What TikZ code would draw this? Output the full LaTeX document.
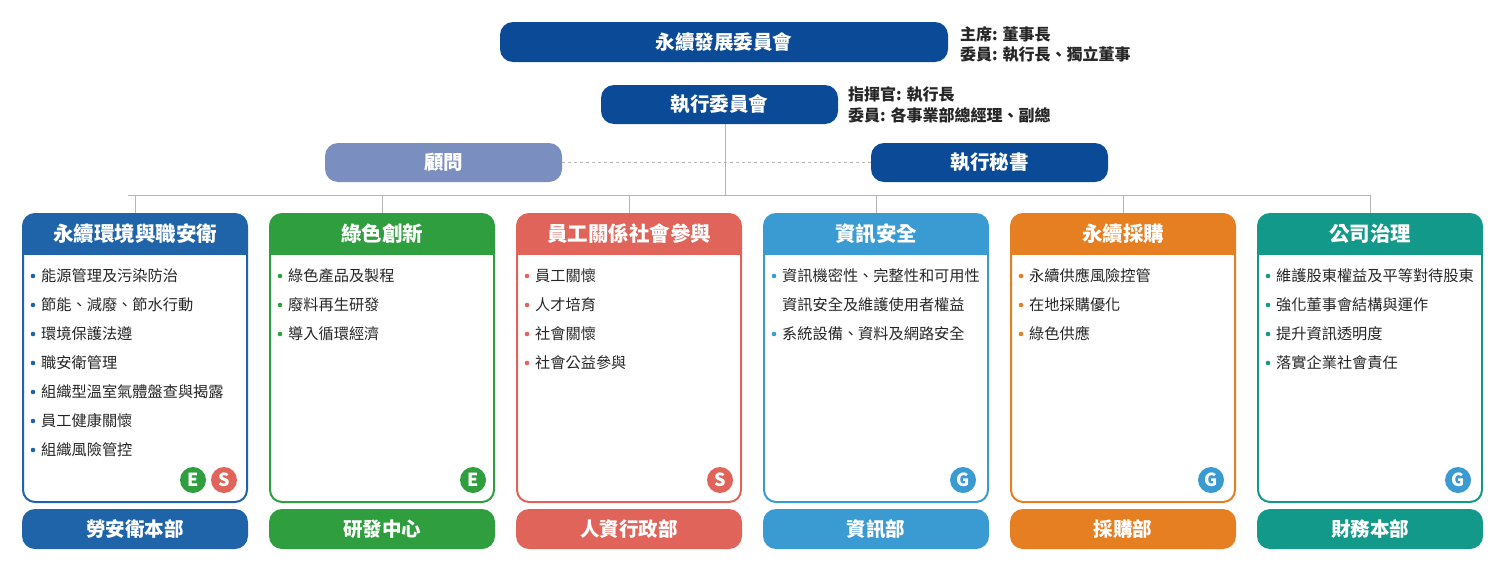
\documentclass[tikz,border=0pt]{standalone}
\usepackage{fontspec}
\setmainfont{Noto Sans CJK TC}
\definecolor{navy}{HTML}{0B4A96}
\definecolor{adv}{HTML}{7B8EC0}
\definecolor{cA}{HTML}{1F64A8}
\definecolor{cB}{HTML}{2E9E3E}
\definecolor{cC}{HTML}{E0645A}
\definecolor{cD}{HTML}{3A9BD2}
\definecolor{cE}{HTML}{E67E22}
\definecolor{cF}{HTML}{12998A}
\definecolor{ln}{HTML}{B5B5B5}
\begin{document}
\begin{tikzpicture}[x=1pt,y=-1pt,
  pill/.style={rounded corners=13pt,text=white,font=\bfseries\fontsize{19.5}{21}\selectfont,inner sep=0pt},
  note/.style={anchor=west,font=\bfseries\fontsize{16}{18}\selectfont,inner sep=0pt,text=black!85},
  item/.style={anchor=west,font=\fontsize{15.2}{17}\selectfont,inner sep=0pt,text=black!85},
  badge/.style={circle,minimum size=26pt,inner sep=0pt,text=white,font=\bfseries\fontsize{18}{18}\selectfont},
  conn/.style={draw=ln,line width=0.9pt}]
\useasboundingbox (0,0) rectangle (1500,565);
\node[pill,fill=navy,minimum width=448pt,minimum height=40pt] (top) at (724,42) {永續發展委員會};
\node[note] (t1) at (960,34) {主席: 董事長};
\node[note] (t2) at (960,54) {委員: 執行長、獨立董事};
\node[pill,fill=navy,minimum width=237pt,minimum height=39pt] (exe) at (719.5,104.5) {執行委員會};
\node[note] (e1) at (848,95) {指揮官: 執行長};
\node[note] (e2) at (848,115) {委員: 各事業部總經理、副總};
\node[pill,fill=adv,minimum width=237pt,minimum height=39pt] (adv) at (443.5,162.5) {顧問};
\node[pill,fill=navy,minimum width=237pt,minimum height=39pt] (sec) at (989.5,162.5) {執行秘書};
\draw[conn,dashed] (adv.east) -- (sec.west);
\coordinate (hub) at (725,195);
\draw[conn] (725,124) -- (hub);
\draw[conn] (128,195) -- (1370,195);
\foreach \cx/\col/\title/\dept/\nm in {135/cA/永續環境與職安衛/勞安衛本部/a,382/cB/綠色創新/研發中心/b,629/cC/員工關係社會參與/人資行政部/c,876/cD/資訊安全/資訊部/d,1123/cE/永續採購/採購部/e,1370/cF/公司治理/財務本部/f}{
  \draw[conn] (\cx,195) -- (\cx,214);
  \draw[\col,line width=2pt,rounded corners=12pt] (\cx-112,214) rectangle (\cx+112,502);
  \begin{scope}
  \clip[rounded corners=12pt] (\cx-112,214) rectangle (\cx+112,502);
  \fill[\col] (\cx-113,213) rectangle (\cx+113,255);
  \end{scope}
  \node[text=white,font=\bfseries\fontsize{20.5}{22}\selectfont] (h\nm) at (\cx,234) {\title};
  \node[pill,fill=\col,minimum width=226pt,minimum height=40pt] (p\nm) at (\cx,529) {\dept};
}
\newcommand\itemlist[3]{%
  \foreach \t [count=\i] in {#3}{
    \fill[#2] (#1+11,276+29*\i-29) circle (2.3pt);
    \node[item] at (#1+19,276+29*\i-29) {\t};
  }}
\itemlist{22}{cA}{能源管理及污染防治,節能、減廢、節水行動,環境保護法遵,職安衛管理,組織型溫室氣體盤查與揭露,員工健康關懷,組織風險管控}
\itemlist{269}{cB}{綠色產品及製程,廢料再生研發,導入循環經濟}
\itemlist{516}{cC}{員工關懷,人才培育,社會關懷,社會公益參與}
\fill[cD] (774,276) circle (2.3pt);
\node[item] at (782,276) {資訊機密性、完整性和可用性};
\node[item] at (782,305) {資訊安全及維護使用者權益};
\fill[cD] (774,334) circle (2.3pt);
\node[item] at (782,334) {系統設備、資料及網路安全};
\itemlist{1010}{cE}{永續供應風險控管,在地採購優化,綠色供應}
\itemlist{1257}{cF}{維護股東權益及平等對待股東,強化董事會結構與運作,提升資訊透明度,落實企業社會責任}
\node[badge,fill=cB] (b1) at (193,480) {E};
\node[badge,fill=cC] (b2) at (224,480) {S};
\node[badge,fill=cB] (b3) at (473,480) {E};
\node[badge,fill=cC] (b4) at (720,480) {S};
\node[badge,fill=cD] (b5) at (963,480) {G};
\node[badge,fill=cD] (b6) at (1211,480) {G};
\node[badge,fill=cD] (b7) at (1458,480) {G};
\end{tikzpicture}
\end{document}
